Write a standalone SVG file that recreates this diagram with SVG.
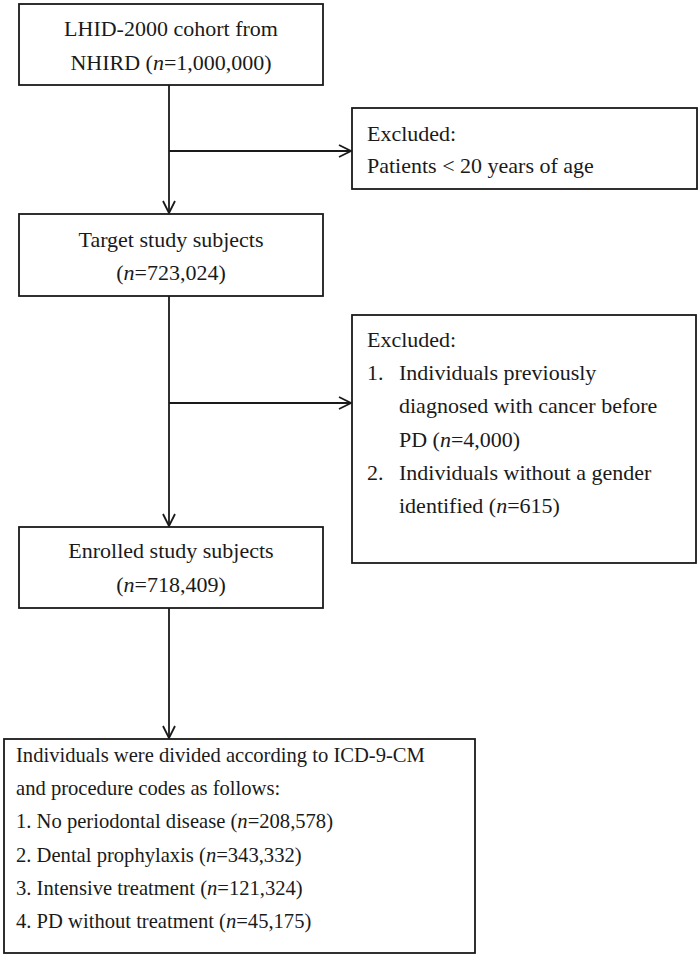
<svg xmlns="http://www.w3.org/2000/svg" width="700" height="958" viewBox="0 0 700 958">
<defs>
<style>
.box{fill:#fff;stroke:#1a1a1a;stroke-width:1.8}
.t{font-family:"Liberation Serif","Times New Roman",serif;font-size:22px;fill:#1a1a1a}
.s{font-size:20.6px}
.c{text-anchor:middle}
.ln{fill:none;stroke:#1a1a1a;stroke-width:1.8}
</style>
<marker id="ah" viewBox="0 0 14 14" refX="13" refY="7" markerWidth="14" markerHeight="14" markerUnits="userSpaceOnUse" orient="auto">
<path d="M1,1 L13,7 L1,13" fill="none" stroke="#1a1a1a" stroke-width="1.8"/>
</marker>
</defs>
<rect width="700" height="958" fill="#fff"/>
<g id="connectors">
<line class="ln" x1="169" y1="85" x2="169" y2="213" marker-end="url(#ah)"/>
<line class="ln" x1="169" y1="151" x2="351" y2="151" marker-end="url(#ah)"/>
<line class="ln" x1="169" y1="296" x2="169" y2="526" marker-end="url(#ah)"/>
<line class="ln" x1="169" y1="403" x2="351" y2="403" marker-end="url(#ah)"/>
<line class="ln" x1="169" y1="608" x2="169" y2="738" marker-end="url(#ah)"/>
</g>
<g id="cohort">
<rect class="box" x="19" y="4" width="304" height="81"/>
<text class="t c" x="171" y="36">LHID-2000 cohort from</text>
<text class="t c" x="171" y="70">NHIRD (<tspan font-style="italic">n</tspan>=1,000,000)</text>
</g>
<g id="excluded1">
<rect class="box" x="352" y="108" width="345" height="81"/>
<text class="t" x="367" y="141">Excluded:</text>
<text class="t" x="367" y="173">Patients &lt; 20 years of age</text>
</g>
<g id="target">
<rect class="box" x="19" y="214" width="304" height="82"/>
<text class="t c" x="171" y="247">Target study subjects</text>
<text class="t c" x="171" y="280">(<tspan font-style="italic">n</tspan>=723,024)</text>
</g>
<g id="excluded2">
<rect class="box" x="352" y="315" width="344" height="248"/>
<text class="t" x="367" y="347">Excluded:</text>
<text class="t" x="367" y="380">1.</text>
<text class="t" x="399" y="380">Individuals previously</text>
<text class="t" x="399" y="413">diagnosed with cancer before</text>
<text class="t" x="399" y="447">PD (<tspan font-style="italic">n</tspan>=4,000)</text>
<text class="t" x="367" y="480">2.</text>
<text class="t" x="399" y="480">Individuals without a gender</text>
<text class="t" x="399" y="513">identified (<tspan font-style="italic">n</tspan>=615)</text>
</g>
<g id="enrolled">
<rect class="box" x="19" y="527" width="304" height="81"/>
<text class="t c" x="171" y="558">Enrolled study subjects</text>
<text class="t c" x="171" y="592">(<tspan font-style="italic">n</tspan>=718,409)</text>
</g>
<g id="groups">
<rect class="box" x="4" y="739" width="471" height="214"/>
<text class="t s" x="16" y="762">Individuals were divided according to ICD-9-CM</text>
<text class="t s" x="16" y="795">and procedure codes as follows:</text>
<text class="t s" x="16" y="828">1. No periodontal disease (<tspan font-style="italic">n</tspan>=208,578)</text>
<text class="t s" x="16" y="862">2. Dental prophylaxis (<tspan font-style="italic">n</tspan>=343,332)</text>
<text class="t s" x="16" y="895">3. Intensive treatment (<tspan font-style="italic">n</tspan>=121,324)</text>
<text class="t s" x="16" y="928">4. PD without treatment (<tspan font-style="italic">n</tspan>=45,175)</text>
</g>
</svg>
